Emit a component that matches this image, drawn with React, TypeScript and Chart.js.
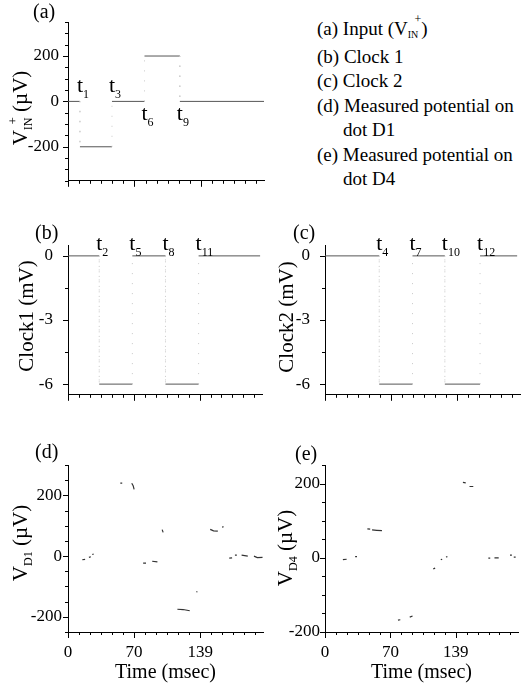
import React, { useEffect, useRef } from 'react';
import { Chart, registerables } from 'chart.js';

Chart.register(...registerables);

const FONT = "'Liberation Serif', 'Times New Roman', serif";
Chart.defaults.font.family = FONT;
Chart.defaults.color = '#000';

// ---------------- data ----------------
const timeMax = 205;
const xTickStep = 139 / 12;
const xTickCount = 18;
const xMajorTicks = [0, 70, 139];
const xMajorLabels = ['0', '70', '139'];

// (a) input V_IN+ (µV): step edges (msec) and levels
const inputEdges = [0, 12.5, 46, 80, 117, 205];
const inputLevels = [0, -200, 0, 200, 0];
const inputTNames = ['1', '3', '6', '9'];
const inputTBelow = [false, false, true, true];

// (b) clock 1 (mV)
const clock1Edges = [0, 33, 68, 103, 138, 203];
const clock1Levels = [0, -6, 0, -6, 0];
const clock1TNames = ['2', '5', '8', '11'];

// (c) clock 2 (mV)
const clock2Edges = [0, 57, 92, 126, 163, 202];
const clock2Levels = [0, -6, 0, -6, 0];
const clock2TNames = ['4', '7', '10', '12'];

// (d) measured potential on dot D1 (µV); null separates fragments
const d1Times = [15, 18, null, 22, 24, null, 25.5, 27, null, 55, 57, null, 67, 68.5, 69.5, null, 79, 82, null, 88.5, 94, null, 99, 100, null, 115, 121, 128, null, 135, 136, null, 149.5, 153, 157.5, null, 162, 163.5, null, 169.5, 172.5, null, 175.5, 177.5, null, 182.5, 189, null, 195.5, 199, 204.5];
const d1Values = [-12, -11, null, -4, -2, null, 5, 7, null, 240, 240, null, 240, 232, 220, null, -23, -23, null, -17, -19, null, 87, 78, null, -175, -176, -180, null, -118, -117, null, 88, 83, 82, null, 95, 97, null, -7, -6, null, 3, 3, null, 3, 0, null, 0, -5, -4];

// (e) measured potential on dot D4 (µV)
const d4Times = [19, 23, null, 32, 34, null, 45, 48, null, 50, 55, 60.5, null, 77.5, 80, null, 90, 93, null, 115, 117, null, 123, 124.5, null, 128.5, 130, null, 146.5, 149.5, null, 153.5, 157.5, null, 173.5, 175.5, null, 180, 184.5, null, 196.5, 198.5, null, 200.5, 202.5];
const d4Values = [-5, -4, null, 3, 3, null, 78, 77, null, 75, 74, 73, null, -168, -167, null, -160, -157, null, -30, -28, null, -5, -4, null, 2, 3, null, 203, 202, null, 192, 192, null, -1, -1, null, 0, 0, null, 7, 7, null, 2, 2];

// y ticks
const yTicksA = [-350, -300, -250, -200, -150, -100, -50, 0, 50, 100, 150, 200, 250, 300, 350];
const yMajorA = [-200, 0, 200];
const yMajorLabelsA = ['-200', '0', '200'];
const yTicksClock = [-6, -4.5, -3, -1.5, 0];
const yMajorClock = [-6, -3, 0];
const yMajorLabelsClock = ['-6', '-3', '0'];
const yTicksD = [-250, -200, -150, -100, -50, 0, 50, 100, 150, 200, 250, 300];
const yTicksE = [-200, -150, -100, -50, 0, 50, 100, 150, 200, 250];
const yMajorD = [-200, 0, 200];
const yMajorLabelsD = ['-200', '0', '200'];

// ---------------- helpers ----------------
type Seg = { t: string; size: number; dy?: number; dx?: number };

function richWidth(ctx: CanvasRenderingContext2D, segs: Seg[]) {
  let w = 0;
  for (const s of segs) {
    ctx.font = `${s.size}px ${FONT}`;
    w += (s.dx || 0) + ctx.measureText(s.t).width;
  }
  return w;
}

function drawRich(ctx: CanvasRenderingContext2D, segs: Seg[], x: number, y: number, align: 'left' | 'center', angle = 0) {
  ctx.save();
  ctx.translate(x, y);
  ctx.rotate(angle);
  ctx.textBaseline = 'alphabetic';
  ctx.textAlign = 'left';
  ctx.fillStyle = '#000';
  const w = richWidth(ctx, segs);
  let cx = align === 'center' ? -w / 2 : 0;
  for (const s of segs) {
    ctx.font = `${s.size}px ${FONT}`;
    cx += s.dx || 0;
    ctx.fillText(s.t, cx, s.dy || 0);
    cx += ctx.measureText(s.t).width;
  }
  ctx.restore();
}

function labelFor(majors: number[], labels: string[], v: number) {
  const i = majors.findIndex((m) => Math.abs(m - v) < 0.6);
  return i >= 0 ? labels[i] : '';
}

function stepPoints(edges: number[], levels: number[]) {
  const pts: { x: number; y: number }[] = [];
  levels.forEach((v, i) => {
    pts.push({ x: edges[i], y: v });
    pts.push({ x: edges[i + 1], y: v });
  });
  return pts;
}

function fragPoints(times: (number | null)[], values: (number | null)[]) {
  let last = 0;
  return times.map((t, i) => {
    if (t === null) return { x: last, y: null as any };
    last = t;
    return { x: t, y: values[i] as number };
  });
}

function stepDataset(edges: number[], levels: number[]) {
  return {
    data: stepPoints(edges, levels),
    borderColor: '#555',
    borderWidth: 1,
    pointRadius: 0,
    tension: 0,
    segment: {
      borderColor: (c: any) => (c.p0.parsed.x === c.p1.parsed.x ? '#c8c8c8' : undefined),
      borderDash: (c: any) => (c.p0.parsed.x === c.p1.parsed.x ? [1, 9] : undefined),
    },
  };
}

function fragDataset(times: (number | null)[], values: (number | null)[]) {
  return {
    data: fragPoints(times, values),
    borderColor: '#333',
    borderWidth: 1.2,
    pointRadius: 0,
    tension: 0,
    spanGaps: false,
  };
}

type TLabels = { edges: number[]; names: string[]; below: boolean[]; above: number; belowOff: number };

type PanelCfg = {
  key: string;
  letter: string;
  rect: [number, number, number, number];
  area: [number, number, number, number];
  yMin: number;
  yMax: number;
  yTicks: number[];
  yMajor: number[];
  yMajorLabels: string[];
  yPad: number;
  yTitle: Seg[];
  yTitleX: number;
  yTitleY: number;
  letterX: number;
  letterY: number;
  showX: boolean;
  datasets: any[];
  tl?: TLabels;
};

const TITLE = 21;
const SUB = 12;
const TICK_FONT = 17;

const panels: PanelCfg[] = [
  {
    key: 'a', letter: '(a)', rect: [0, 0, 270, 200], area: [68, 22, 264, 188],
    yMin: -350, yMax: 350, yTicks: yTicksA, yMajor: yMajorA, yMajorLabels: yMajorLabelsA, yPad: 9,
    yTitle: [{ t: 'V', size: TITLE }, { t: 'IN', size: SUB, dy: 5 }, { t: '+', size: 13, dy: -10, dx: -7 }, { t: ' (µV)', size: TITLE }],
    yTitleX: 27, yTitleY: 108, letterX: 33, letterY: 18, showX: false,
    datasets: [stepDataset(inputEdges, inputLevels)],
    tl: { edges: inputEdges.slice(1, 5), names: inputTNames, below: inputTBelow, above: -9, belowOff: 19 },
  },
  {
    key: 'b', letter: '(b)', rect: [0, 220, 266, 200], area: [68, 242, 262, 409],
    yMin: -6.5, yMax: 0.5, yTicks: yTicksClock, yMajor: yMajorClock, yMajorLabels: yMajorLabelsClock, yPad: 15,
    yTitle: [{ t: 'Clock1 (mV)', size: TITLE }],
    yTitleX: 33, yTitleY: 316, letterX: 35, letterY: 239, showX: false,
    datasets: [stepDataset(clock1Edges, clock1Levels)],
    tl: { edges: clock1Edges.slice(1, 5), names: clock1TNames, below: [false, false, false, false], above: -6, belowOff: 0 },
  },
  {
    key: 'c', letter: '(c)', rect: [268, 220, 258, 200], area: [325, 243, 520, 409],
    yMin: -6.5, yMax: 0.5, yTicks: yTicksClock, yMajor: yMajorClock, yMajorLabels: yMajorLabelsClock, yPad: 15,
    yTitle: [{ t: 'Clock2 (mV)', size: TITLE }],
    yTitleX: 293, yTitleY: 317, letterX: 293, letterY: 239, showX: false,
    datasets: [stepDataset(clock2Edges, clock2Levels)],
    tl: { edges: clock2Edges.slice(1, 5), names: clock2TNames, below: [false, false, false, false], above: -6, belowOff: 0 },
  },
  {
    key: 'd', letter: '(d)', rect: [0, 440, 268, 250], area: [68, 465, 263, 632],
    yMin: -250, yMax: 300, yTicks: yTicksD, yMajor: yMajorD, yMajorLabels: yMajorLabelsD, yPad: 6,
    yTitle: [{ t: 'V', size: TITLE }, { t: 'D1', size: SUB, dy: 5 }, { t: ' (µV)', size: TITLE }],
    yTitleX: 27, yTitleY: 543, letterX: 35, letterY: 458, showX: true,
    datasets: [fragDataset(d1Times, d1Values)],
  },
  {
    key: 'e', letter: '(e)', rect: [268, 440, 258, 250], area: [325, 465, 518, 632],
    yMin: -200, yMax: 250, yTicks: yTicksE, yMajor: yMajorD, yMajorLabels: yMajorLabelsD, yPad: 5,
    yTitle: [{ t: 'V', size: TITLE }, { t: 'D4', size: SUB, dy: 5 }, { t: ' (µV)', size: TITLE }],
    yTitleX: 292, yTitleY: 548, letterX: 295, letterY: 460, showX: true,
    datasets: [fragDataset(d4Times, d4Values)],
  },
];

function decorPlugin(p: PanelCfg) {
  return {
    id: 'decor_' + p.key,
    afterDraw(chart: any) {
      const ctx: CanvasRenderingContext2D = chart.ctx;
      const xs = chart.scales.x;
      const ys = chart.scales.y;
      const area = chart.chartArea;
      const [rl, rt] = p.rect;
      ctx.save();
      ctx.strokeStyle = '#000';
      ctx.lineWidth = 1;
      ctx.beginPath();
      xs.ticks.forEach((t: any) => {
        const px = Math.round(xs.getPixelForValue(t.value)) + 0.5;
        const major = labelFor(xMajorTicks, xMajorLabels, t.value) !== '';
        const len = major ? 6 : 3;
        ctx.moveTo(px, area.bottom);
        ctx.lineTo(px, area.bottom + len);
      });
      ys.ticks.forEach((t: any) => {
        const py = Math.round(ys.getPixelForValue(t.value)) + 0.5;
        const major = p.yMajor.some((m) => Math.abs(m - t.value) < 1e-6);
        const len = major ? 5 : 3;
        ctx.moveTo(area.left, py);
        ctx.lineTo(area.left - len, py);
      });
      ctx.stroke();
      ctx.restore();

      // y axis title
      drawRich(ctx, p.yTitle, p.yTitleX - rl, p.yTitleY - rt, 'center', -Math.PI / 2);
      // panel letter
      drawRich(ctx, [{ t: p.letter, size: 20 }], p.letterX - rl, p.letterY - rt, 'left');
      // x title
      if (p.showX) {
        drawRich(ctx, [{ t: 'Time (msec)', size: 20 }], (area.left + area.right) / 2, 678 - rt, 'center');
      }
      // t labels
      if (p.tl) {
        const y0 = ys.getPixelForValue(0);
        p.tl.edges.forEach((e, i) => {
          const x = xs.getPixelForValue(e) - 3;
          const y = p.tl!.below[i] ? y0 + p.tl!.belowOff : y0 + p.tl!.above;
          drawRich(ctx, [{ t: 't', size: 22 }, { t: p.tl!.names[i], size: SUB, dy: 6 }], x, y, 'left');
        });
      }
    },
  };
}

function buildConfig(p: PanelCfg): any {
  const [rl, rt, rw, rh] = p.rect;
  const [al, at, ar, ab] = p.area;
  return {
    type: 'line',
    data: { datasets: p.datasets },
    options: {
      animation: false,
      responsive: false,
      devicePixelRatio: 1,
      layout: { padding: { left: 0, top: at - rt, right: rl + rw - ar, bottom: 0 } },
      plugins: { legend: { display: false }, tooltip: { enabled: false }, title: { display: false } },
      scales: {
        x: {
          type: 'linear',
          min: 0,
          max: timeMax,
          position: 'bottom',
          border: { display: true, color: '#000', width: 1 },
          grid: { display: true, drawOnChartArea: false, drawTicks: false },
          ticks: {
            display: p.showX,
            autoSkip: false,
            maxRotation: 0,
            minRotation: 0,
            padding: 10,
            color: '#000',
            font: { family: FONT, size: TICK_FONT },
            callback: (v: number) => labelFor(xMajorTicks, xMajorLabels, v),
          },
          afterBuildTicks: (s: any) => {
            s.ticks = Array.from({ length: xTickCount }, (_, i) => ({ value: i * xTickStep }));
          },
          afterFit: (s: any) => {
            s.height = rt + rh - ab;
          },
        },
        y: {
          type: 'linear',
          min: p.yMin,
          max: p.yMax,
          position: 'left',
          border: { display: true, color: '#000', width: 1 },
          grid: { display: true, drawOnChartArea: false, drawTicks: false },
          ticks: {
            autoSkip: false,
            padding: p.yPad,
            color: '#000',
            font: { family: FONT, size: TICK_FONT },
            callback: (v: number) => labelFor(p.yMajor, p.yMajorLabels, v),
          },
          afterBuildTicks: (s: any) => {
            s.ticks = p.yTicks.map((v) => ({ value: v }));
          },
          afterFit: (s: any) => {
            s.width = al - rl;
          },
        },
      },
    },
    plugins: [decorPlugin(p)],
  };
}

function Panel({ cfg }: { cfg: PanelCfg }) {
  const ref = useRef<HTMLCanvasElement>(null);
  useEffect(() => {
    const chart = new Chart(ref.current as HTMLCanvasElement, buildConfig(cfg));
    return () => chart.destroy();
  }, [cfg]);
  const [l, t, w, h] = cfg.rect;
  return <canvas ref={ref} width={w} height={h} style={{ position: 'absolute', left: l, top: t, width: w, height: h }} />;
}

function Legend() {
  const line: React.CSSProperties = { whiteSpace: 'nowrap' };
  const indent: React.CSSProperties = { whiteSpace: 'nowrap', paddingLeft: 26 };
  return (
    <div style={{ position: 'absolute', left: 317, top: 17, fontFamily: FONT, fontSize: 19, lineHeight: '24.5px', color: '#000' }}>
      <div style={line}>
        (a) Input (V
        <span style={{ position: 'relative', display: 'inline-block' }}>
          <span style={{ fontSize: 10, position: 'relative', top: 3 }}>IN</span>
          <span style={{ fontSize: 12, position: 'absolute', right: -3, top: -10 }}>+</span>
        </span>
        <span style={{ marginLeft: 3 }}>)</span>
      </div>
      <div style={line}>(b) Clock 1</div>
      <div style={line}>(c) Clock 2</div>
      <div style={line}>(d) Measured potential on</div>
      <div style={indent}>dot D1</div>
      <div style={line}>(e) Measured potential on</div>
      <div style={indent}>dot D4</div>
    </div>
  );
}

export default function App() {
  return (
    <div style={{ position: 'absolute', left: 0, top: 0, width: 526, height: 690, background: '#fff' }}>
      {panels.map((p) => (
        <Panel key={p.key} cfg={p} />
      ))}
      <Legend />
    </div>
  );
}
